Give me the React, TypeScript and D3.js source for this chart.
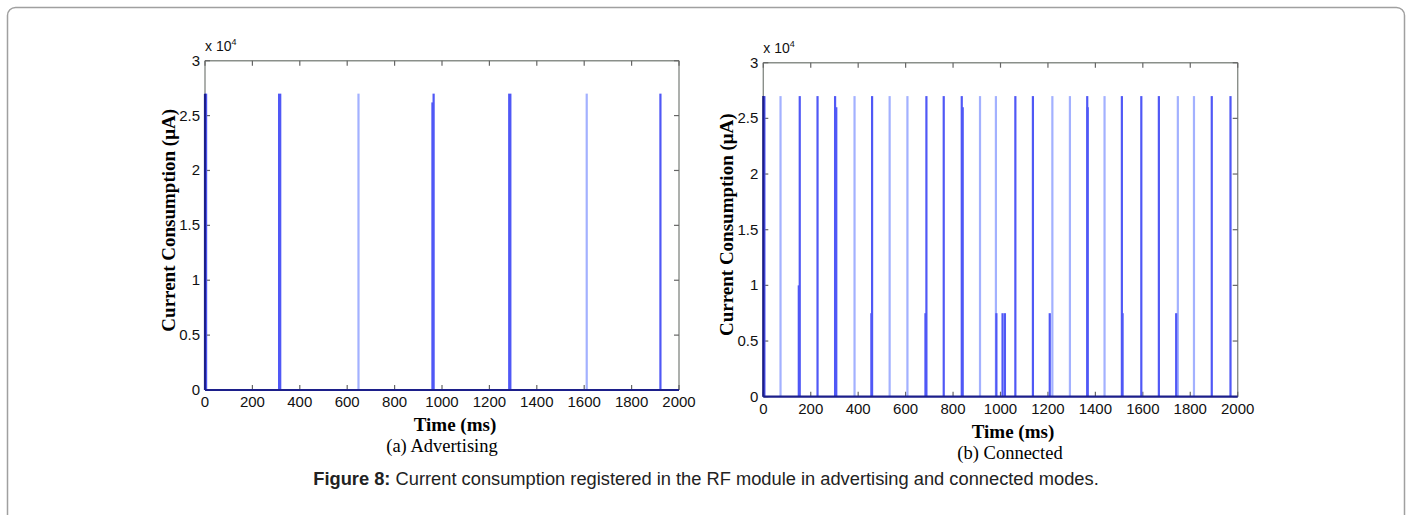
import React from "react";
import * as d3 from "d3";

// ---- data ----
const xTicks = [0, 200, 400, 600, 800, 1000, 1200, 1400, 1600, 1800, 2000];
const yTicks = [0, 0.5, 1, 1.5, 2, 2.5, 3];
const yTickLabels = ["0", "0.5", "1", "1.5", "2", "2.5", "3"];

// pulses: [start time (ms), peak (x10^4 uA), duration (ms)]
const advDark: [number, number, number][] = [
  [0, 2.7, 2],
  [308, 2.7, 14],
  [955, 2.62, 6],
  [960, 2.7, 9],
  [1279, 2.7, 14],
  [1917, 2.7, 4],
];
const advLight: [number, number, number][] = [
  [643, 2.7, 4],
  [1606, 2.7, 4],
];

const conDark: [number, number, number][] = [
  [0, 2.7, 2],
  [145, 1.0, 4],
  [149, 2.7, 6],
  [224, 2.7, 4],
  [298, 2.7, 5],
  [303, 2.6, 7],
  [451, 0.75, 4],
  [454, 2.7, 3],
  [679, 0.75, 5],
  [683, 2.7, 6],
  [756, 2.7, 4],
  [832, 2.7, 4],
  [836, 2.6, 6],
  [978, 0.75, 6],
  [1004, 0.75, 4],
  [1014, 0.75, 8],
  [1058, 2.7, 4],
  [1132, 2.7, 4],
  [1203, 0.75, 6],
  [1361, 2.7, 3],
  [1363, 2.6, 4],
  [1507, 2.7, 4],
  [1510, 0.75, 6],
  [1589, 2.7, 4],
  [1663, 2.7, 4],
  [1736, 0.75, 6],
  [1886, 2.7, 8],
  [1965, 2.7, 4],
];
const conLight: [number, number, number][] = [
  [68, 2.7, 4],
  [380, 2.7, 4],
  [528, 2.7, 4],
  [603, 2.7, 4],
  [909, 2.7, 4],
  [976, 2.7, 4],
  [1214, 2.7, 4],
  [1288, 2.7, 4],
  [1434, 2.7, 4],
  [1743, 2.7, 4],
  [1811, 2.7, 4],
];

type Pulse = [number, number, number];

interface PanelProps {
  left: number;
  top: number;
  width: number;
  height: number;
  dark: Pulse[];
  light: Pulse[];
  xTitleCx: number;
  subCx: number;
  sub: string;
}

const serif = "'Liberation Serif', 'Times New Roman', serif";
const sans = "'Liberation Sans', Arial, sans-serif";

function Panel(p: PanelProps) {
  const x = d3.scaleLinear().domain([0, 2000]).range([p.left, p.left + p.width]);
  const y = d3.scaleLinear().domain([0, 3]).range([p.top + p.height, p.top]);
  const bottom = p.top + p.height;
  const right = p.left + p.width;
  const tickLen = 5;
  const frame = "#8a8f8a";
  const rect = (d: Pulse, color: string, i: number) => {
    const x0 = x(d[0]);
    const w = Math.max(2.2, x(d[0] + d[2]) - x0);
    return (
      <rect key={color + i} x={x0} y={y(d[1])} width={w} height={y(0) - y(d[1])} fill={color} />
    );
  };
  return (
    <g>
      {/* frame */}
      <line x1={p.left} x2={right} y1={p.top} y2={p.top} stroke={frame} strokeWidth={1.4} />
      <line x1={right} x2={right} y1={p.top} y2={bottom} stroke={frame} strokeWidth={1.4} />
      <line x1={p.left} x2={p.left} y1={p.top} y2={bottom} stroke={frame} strokeWidth={1.4} />
      {xTicks.map((t) => (
        <g key={"xt" + t}>
          <line x1={x(t)} x2={x(t)} y1={bottom} y2={bottom - tickLen} stroke="#666" strokeWidth={1.2} />
          <line x1={x(t)} x2={x(t)} y1={p.top} y2={p.top + tickLen} stroke="#666" strokeWidth={1.2} />
          <text x={x(t)} y={bottom + 17} textAnchor="middle" fontFamily={sans} fontSize={15} fill="#111">
            {t}
          </text>
        </g>
      ))}
      {yTicks.map((t, i) => (
        <g key={"yt" + t}>
          <line x1={p.left} x2={p.left + tickLen} y1={y(t)} y2={y(t)} stroke="#666" strokeWidth={1.2} />
          <line x1={right} x2={right - tickLen} y1={y(t)} y2={y(t)} stroke="#666" strokeWidth={1.2} />
          <text x={p.left - 5} y={y(t) + 5} textAnchor="end" fontFamily={sans} fontSize={15} fill="#111">
            {yTickLabels[i]}
          </text>
        </g>
      ))}
      {/* pulses */}
      {p.light.map((d, i) => rect(d, "#a3b1ff", i))}
      {p.dark.map((d, i) => rect(d, "#5058f6", i))}
      {/* baseline trace */}
      <line x1={p.left} x2={right} y1={y(0)} y2={y(0)} stroke="#1c1f8a" strokeWidth={2.2} />
      <line x1={p.left} x2={p.left} y1={y(0)} y2={y(2.7)} stroke="#1c1f8a" strokeWidth={2.2} />
      {/* exponent */}
      <text x={p.left} y={p.top - 10} fontFamily={sans} fontSize={14} fill="#111">
        x 10<tspan dy={-6} fontSize={9}>4</tspan>
      </text>
      {/* y label */}
      <text
        transform={`translate(${p.left - 30},${p.top + p.height / 2 - 5}) rotate(-90)`}
        textAnchor="middle"
        fontFamily={serif}
        fontWeight="bold"
        fontSize={19}
        fill="#000"
      >
        Current Consumption (μA)
      </text>
      <text x={p.xTitleCx} y={bottom + 41} textAnchor="middle" fontFamily={serif} fontWeight="bold" fontSize={19} fill="#000">
        Time (ms)
      </text>
      <text x={p.subCx} y={bottom + 62} textAnchor="middle" fontFamily={serif} fontSize={18.5} fill="#000">
        {p.sub}
      </text>
    </g>
  );
}

export default function App() {
  return (
    <div style={{ position: "absolute", left: 0, top: 0 }}>
      <svg width={1413} height={515} style={{ display: "block", background: "#fff" }}>
        <rect x={7.5} y={7.5} width={1397} height={530} rx={8} fill="#fff" stroke="#a0a0a0" strokeWidth={1.5} />
        <Panel
          left={205}
          top={60.7}
          width={474}
          height={329.3}
          dark={advDark}
          light={advLight}
          xTitleCx={455}
          subCx={442}
          sub="(a) Advertising"
        />
        <Panel
          left={763.3}
          top={62.7}
          width={474.4}
          height={334}
          dark={conDark}
          light={conLight}
          xTitleCx={1013}
          subCx={1010}
          sub="(b) Connected"
        />
        <text x={706} y={485} textAnchor="middle" fontFamily={sans} fontSize={18.3} fill="#222">
          <tspan fontWeight="bold">Figure 8:</tspan> Current consumption registered in the RF module in advertising and connected modes.
        </text>
      </svg>
    </div>
  );
}
